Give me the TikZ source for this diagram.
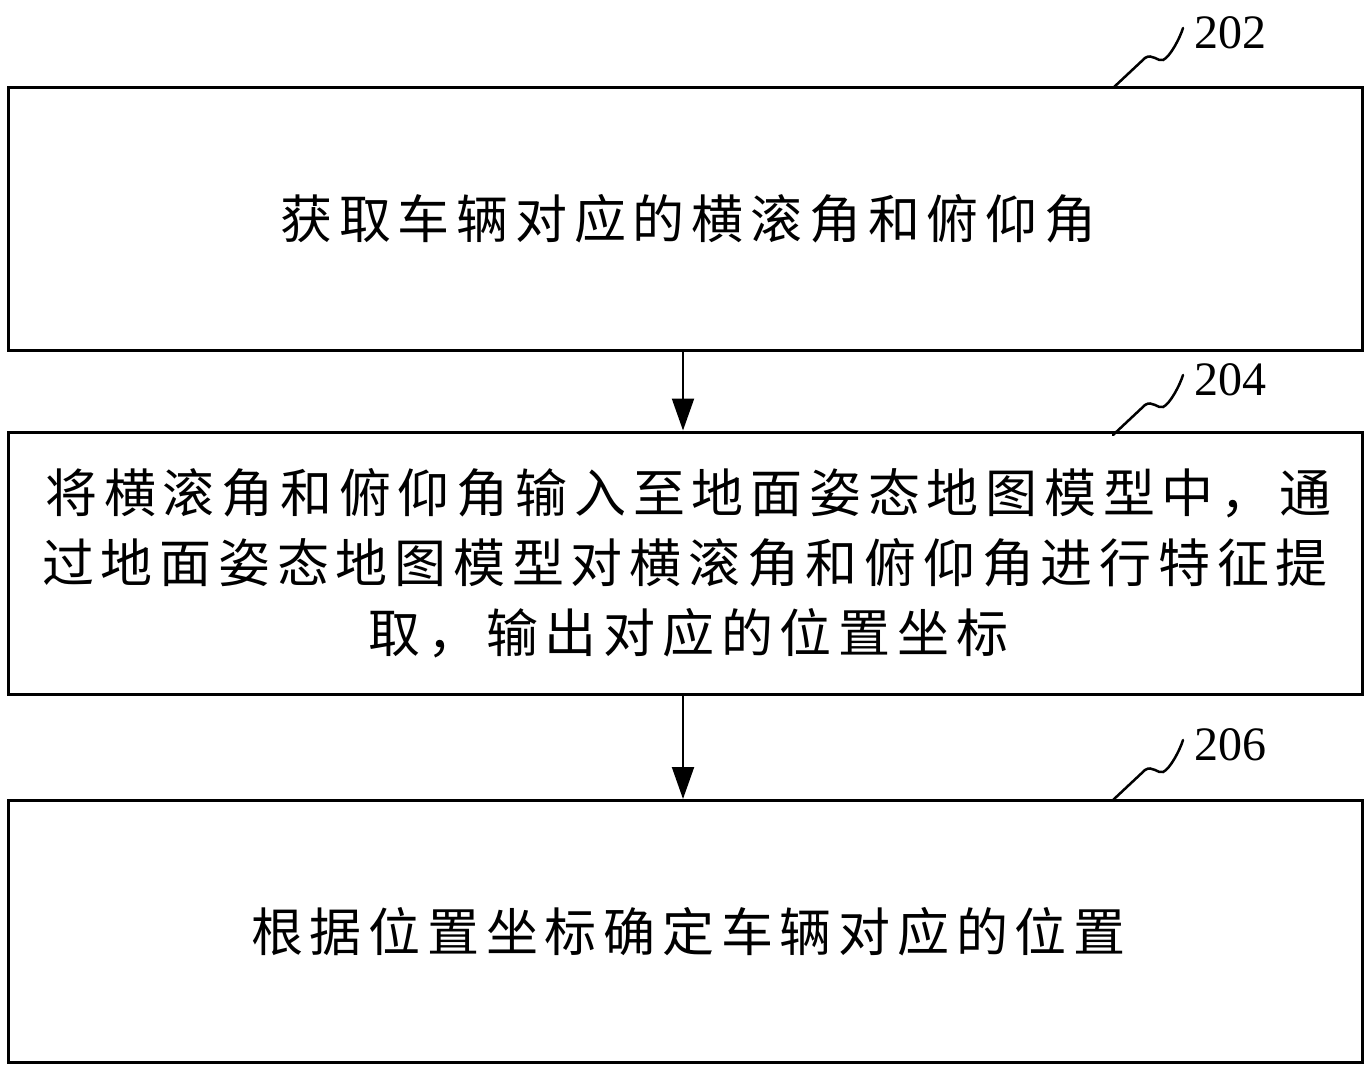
\documentclass[tikz,border=0pt]{standalone}
\usepackage{fontspec}
\setmainfont{Liberation Serif}
\newfontfamily\cjk[LetterSpace=13]{Noto Sans CJK SC}
\usetikzlibrary{arrows.meta}
\begin{document}
\begin{tikzpicture}[x=1pt,y=-1pt,
  stepbox/.style={draw,line width=3pt,minimum width=1354pt,minimum height=262pt,inner sep=0pt,
     font=\cjk\fontsize{52pt}{70pt}\selectfont,align=center},
  flow/.style={line width=2pt,-{Triangle[length=32pt,width=22pt]}},
  tag/.style={font=\fontsize{48pt}{48pt}\selectfont,inner sep=0pt,anchor=west},
  wave/.style={line width=2.5pt,line cap=round}]
\useasboundingbox (0,0) rectangle (1366,1070);
\node[stepbox] (b1) at (685,219) {获取车辆对应的横滚角和俯仰角\hspace*{-6.8pt}};
\node[stepbox] (b2) at (685,563) {将横滚角和俯仰角输入至地面姿态地图模型中，通\hspace*{-6.8pt}\\过地面姿态地图模型对横滚角和俯仰角进行特征提\hspace*{-6.8pt}\\取，输出对应的位置坐标\hspace*{-6.8pt}};
\node[stepbox] (b3) at (685,931.5) {根据位置坐标确定车辆对应的位置\hspace*{-6.8pt}};
\draw[flow] (b1.south -| 683,0) -- (b2.north -| 683,0);
\draw[flow] (b2.south -| 683,0) -- (b3.north -| 683,0);
\foreach \n/\b/\y in {202/b1/88,204/b2/435,206/b3/800}{
  \node[tag] (t\n) at (1194,\y-55) {\n};
  \coordinate (s\n) at (1113,\y);
  \draw[wave] (s\n) -- ++(32,-30) .. controls +(7,-5) and +(-5,2) .. ++(18,2)
     .. controls +(7,-3) and +(-3,10) .. ++(20,-32);
}
\end{tikzpicture}
\end{document}
